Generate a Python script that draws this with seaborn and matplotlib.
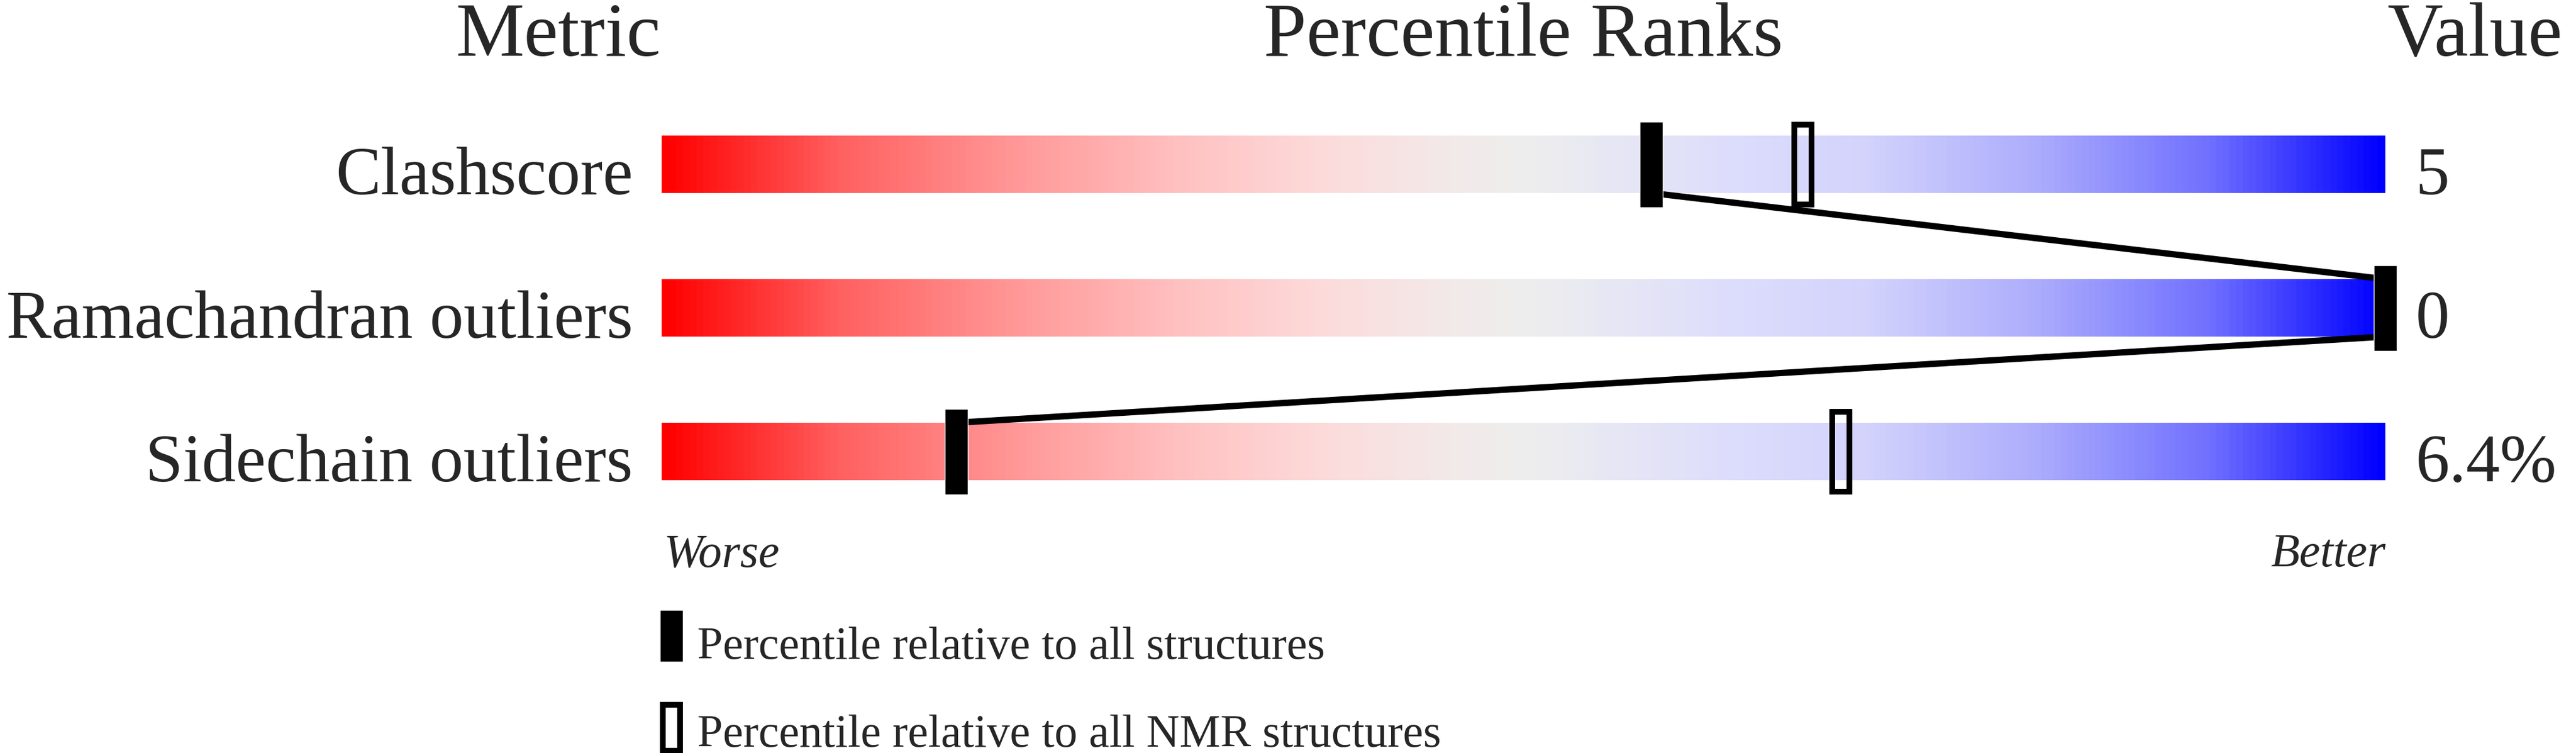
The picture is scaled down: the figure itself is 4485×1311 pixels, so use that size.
import matplotlib
matplotlib.use("Agg")
import matplotlib.pyplot as plt
import seaborn as sns
import numpy as np
import pandas as pd
from matplotlib.colors import LinearSegmentedColormap

# data
METRICS = ["Clashscore", "Ramachandran outliers", "Sidechain outliers"]
VALUES = ["5", "0", "6.4%"]
PCT_ALL = [57.4, 100.0, 17.1]
PCT_NMR = [66.2, None, 68.4]

W, H = 4485, 1311
DPI = 100
PX = 72.0 / DPI  # points per pixel

sns.set_theme(style="white")
plt.rcParams["font.family"] = ["Liberation Serif", "DejaVu Serif"]

# red -> grey -> blue slider
stops = [
    (0.00, (255, 0, 0)), (0.10, (255, 95, 95)), (0.20, (255, 150, 150)),
    (0.30, (255, 193, 193)), (0.38, (253, 218, 218)), (0.45, (244, 232, 232)),
    (0.50, (238, 238, 238)), (0.56, (230, 230, 245)), (0.62, (221, 221, 252)),
    (0.70, (211, 211, 253)), (0.80, (172, 172, 252)), (0.90, (112, 112, 255)),
    (1.00, (0, 0, 255)),
]
cmap = LinearSegmentedColormap.from_list(
    "slider", [(f, tuple(c / 255 for c in rgb)) for f, rgb in stops])

fig = plt.figure(figsize=(W / DPI, H / DPI), dpi=DPI)
ax = fig.add_axes([0, 0, 1, 1])

# x: percentile, bar spans 0..100 from px 1152 to 4153
x0, xs = 1152, 30.01
ax.set_xlim(-x0 / xs, (W - x0) / xs)
# y: row index, rows 250 px apart, first centre at px 286
y0, ys = 286, 250
ax.set_ylim((H - y0) / ys, -y0 / ys)
ax.axis("off")

grad = np.linspace(0, 1, 600).reshape(1, -1)
half_bar = 50 / ys
for i in range(len(METRICS)):
    ax.imshow(grad, cmap=cmap, aspect="auto", interpolation="bilinear",
              extent=(0, 100, i + half_bar, i - half_bar), zorder=1)

# connecting line between the overall percentiles
pts = []
for i, p in enumerate(PCT_ALL):
    if i > 0:
        pts.append((p, i - half_bar))
    if i < len(PCT_ALL) - 1:
        pts.append((p, i + half_bar))
line_df = pd.DataFrame(pts, columns=["pct", "row"])
sns.lineplot(data=line_df, x="pct", y="row", sort=False, estimator=None,
             color="black", linewidth=11 * PX, ax=ax, zorder=2)

mk_h = 149 / ys
mk_w = 40 / xs
rows = np.arange(len(METRICS))
ax.bar(PCT_ALL, mk_h, width=mk_w, bottom=rows - mk_h / 2,
       color="black", zorder=4)
nmr_rows = [r for r, p in zip(rows, PCT_NMR) if p is not None]
nmr_vals = [p for p in PCT_NMR if p is not None]
ax.bar(nmr_vals, (149 - 10) / ys, width=30 / xs,
       bottom=np.array(nmr_rows) - (139 / ys) / 2,
       fill=False, edgecolor="black", linewidth=10 * PX, zorder=3)


def fx(x):
    return x / W


def fy(y):
    return 1 - y / H


# headers
hs = 134 * PX
fig.text(fx(1150), fy(97), "Metric", ha="right", va="baseline", fontsize=hs)
fig.text(fx(2652), fy(97), "Percentile Ranks", ha="center", va="baseline", fontsize=hs)
fig.text(fx(4156), fy(97), "Value", ha="left", va="baseline", fontsize=hs)

# row labels and values
rs = 118 * PX
for i, (m, v) in enumerate(zip(METRICS, VALUES)):
    yb = y0 + i * ys + 52
    fig.text(fx(1102), fy(yb), m, ha="right", va="baseline", fontsize=rs)
    fig.text(fx(4206), fy(yb), v, ha="left", va="baseline", fontsize=rs)

ws = 82 * PX
fig.text(fx(1156), fy(986), "Worse", ha="left", va="baseline", fontsize=ws, style="italic")
fig.text(fx(4153), fy(986), "Better", ha="right", va="baseline", fontsize=ws, style="italic")

# legend
ls = 80 * PX
ax.bar([(1169 - x0) / xs], [90 / ys], width=40 / xs,
       bottom=[(1062 - y0) / ys], color="black", zorder=4)
ax.bar([(1169 - x0) / xs], [80 / ys], width=30 / xs,
       bottom=[(1227 - y0) / ys], fill=False, edgecolor="black",
       linewidth=10 * PX, zorder=4)
fig.text(fx(1214), fy(1147), "Percentile relative to all structures",
         ha="left", va="baseline", fontsize=ls)
fig.text(fx(1214), fy(1300), "Percentile relative to all NMR structures",
         ha="left", va="baseline", fontsize=ls)

fig.savefig("out.png", dpi=DPI, facecolor="white")
